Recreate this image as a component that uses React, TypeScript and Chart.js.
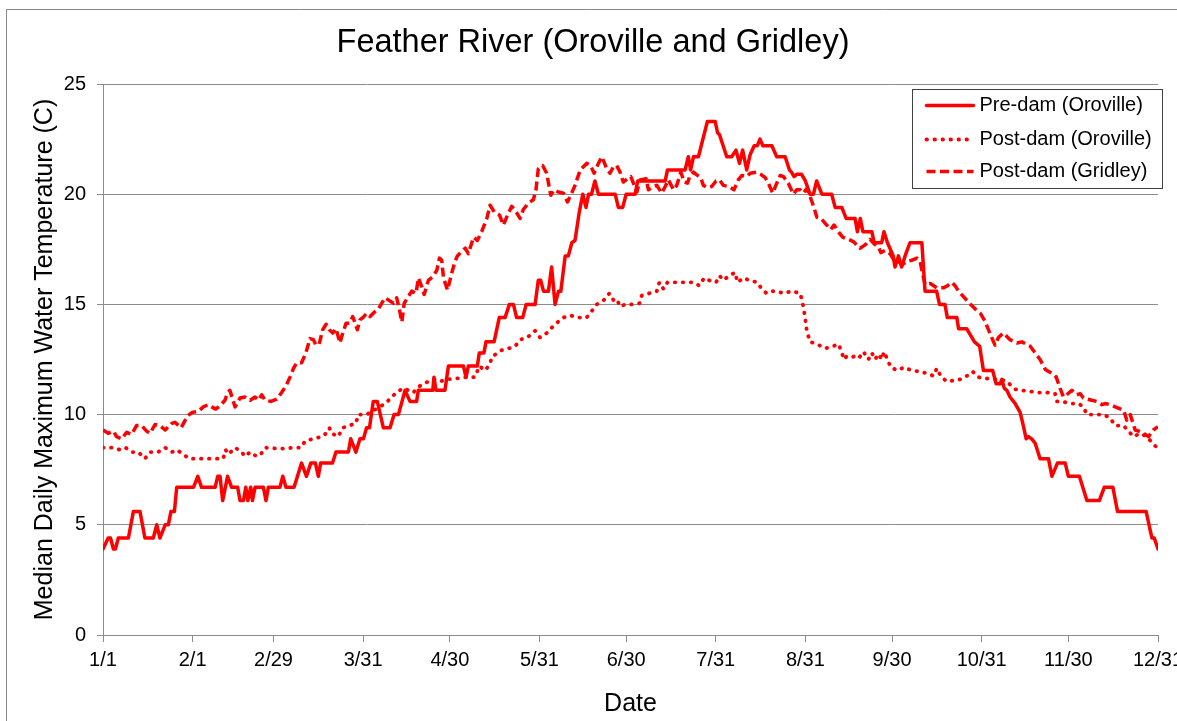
import React, { useEffect, useRef } from "react";
import { Chart, registerables } from "chart.js";

Chart.register(...registerables);

const FONT = "'Liberation Sans', Arial, sans-serif";
const RED = "#ff0000";
const GRID = "#8c8c8c";

const chartTitle = "Feather River (Oroville and Gridley)";
const xTitle = "Date";
const yTitle = "Median Daily Maximum Water Temperature (C)";
const seriesNames = ["Pre-dam (Oroville)", "Post-dam (Oroville)", "Post-dam (Gridley)"];

const tickDays = [0, 31, 59, 90, 120, 151, 181, 212, 243, 273, 304, 334, 365];
const tickLabels = ["1/1", "2/1", "2/29", "3/31", "4/30", "5/31", "6/30", "7/31", "8/31", "9/30", "10/31", "11/30", "12/31"];

const preDamDays = [
  0, 1.8, 2.6, 3.6, 4.3, 5.3, 8.8, 10.5, 12.8, 14.5, 17.4, 18.6, 19.7, 21.5, 22.6, 23.5, 24.7, 25.5, 31.3, 32.8,
  34.1, 38.8, 39.7, 40.5, 41.4, 43.1, 44.5, 46.6, 47.4, 48.6, 49.4, 50.1, 51.1, 51.7, 52.6, 55.5, 56.4, 57.2, 61.2, 62.2,
  63.3, 66.1, 68.7, 70.4, 71.9, 73.5, 74.5, 75.3, 79.4, 80.6, 84.9, 85.7, 87.5, 88.9, 90.1, 91.2, 92.2, 93.5, 94.9, 97.0,
  99.3, 100.7, 102.2, 104.5, 106.2, 108.5, 109.1, 114.1, 114.5, 115.2, 118.3, 119.5, 124.7, 125.6, 126.4, 129.5, 130.2, 131.8, 132.5, 135.3,
  137.1, 139.1, 140.6, 142.0, 143.1, 145.2, 146.4, 149.5, 150.6, 151.4, 152.4, 154.1, 155.2, 156.4, 157.6, 158.4, 159.9, 161.0, 162.2, 163.3,
  164.8, 166.0, 167.1, 168.0, 169.0, 170.2, 171.4, 177.2, 178.3, 179.8, 181.0, 184.1, 185.0, 194.5, 195.3, 201.4, 202.5, 203.3, 204.3, 206.0,
  209.1, 211.8, 212.6, 213.3, 215.8, 217.5, 219.0, 220.2, 221.3, 222.7, 223.9, 225.3, 226.4, 227.3, 228.3, 231.4, 233.1, 236.0, 237.5, 238.2,
  239.1, 240.0, 241.7, 243.0, 244.6, 245.8, 246.9, 248.7, 252.1, 253.3, 255.6, 257.1, 260.2, 261.0, 262.0, 262.9, 266.0, 266.8, 269.4, 270.2,
  271.4, 273.4, 274.0, 275.2, 276.3, 277.5, 279.2, 283.3, 284.4, 288.4, 289.4, 291.3, 292.1, 295.4, 296.0, 298.8, 301.5, 303.3, 304.6, 307.8,
  309.0, 310.4, 311.0, 311.8, 312.7, 313.8, 315.6, 317.3, 318.4, 319.4, 320.2, 321.3, 322.5, 324.2, 327.1, 328.3, 330.2, 332.9, 334.0, 337.8,
  340.4, 344.7, 346.4, 349.4, 351.0, 360.9, 362.9, 363.7, 365,
];
const preDamTemps = [
  3.9, 4.4, 4.4, 3.9, 3.9, 4.4, 4.4, 5.6, 5.6, 4.4, 4.4, 5.0, 4.4, 5.0, 5.0, 5.6, 5.6, 6.7, 6.7, 7.2,
  6.7, 6.7, 7.2, 7.2, 6.1, 7.2, 6.7, 6.7, 6.1, 6.1, 6.7, 6.1, 6.7, 6.1, 6.7, 6.7, 6.1, 6.7, 6.7, 7.2,
  6.7, 6.7, 7.8, 7.2, 7.8, 7.8, 7.2, 7.8, 7.8, 8.3, 8.3, 8.9, 8.3, 8.9, 8.9, 9.4, 9.4, 10.6, 10.6, 9.4,
  9.4, 10.0, 10.0, 11.1, 10.6, 10.6, 11.1, 11.1, 11.7, 11.1, 11.1, 12.2, 12.2, 11.7, 12.2, 12.2, 12.8, 12.8, 13.3, 13.3,
  14.4, 14.4, 15.0, 15.0, 14.4, 14.4, 15.0, 15.0, 16.1, 16.1, 15.6, 15.6, 16.7, 15.0, 15.6, 15.6, 17.2, 17.2, 17.8, 17.9,
  19.2, 20.0, 19.4, 20.0, 20.0, 20.6, 20.0, 20.0, 19.4, 19.4, 20.0, 20.0, 20.6, 20.6, 21.1, 21.1, 21.7, 21.1, 21.7, 21.7,
  23.3, 23.3, 22.8, 22.7, 21.7, 21.7, 22.0, 21.4, 22.0, 21.1, 21.8, 22.2, 22.2, 22.5, 22.2, 22.2, 21.7, 21.7, 21.1, 21.0,
  20.8, 20.9, 20.9, 20.6, 20.0, 20.0, 20.6, 20.0, 20.0, 19.4, 19.4, 18.9, 18.9, 18.3, 18.9, 18.3, 18.3, 17.8, 17.8, 18.3,
  17.8, 17.2, 16.7, 17.2, 16.7, 17.2, 17.8, 17.8, 15.6, 15.6, 15.0, 15.0, 14.4, 14.4, 13.9, 13.9, 13.3, 13.1, 12.0, 12.0,
  11.4, 11.4, 11.6, 11.2, 11.1, 10.8, 10.5, 10.1, 9.5, 8.9, 9.0, 8.9, 8.7, 8.0, 8.0, 7.2, 7.8, 7.8, 7.2, 7.2,
  6.1, 6.1, 6.7, 6.7, 5.6, 5.6, 4.4, 4.4, 3.9,
];

const postOrovilleDays = [
  0, 3.6, 5.9, 7.8, 9.9, 12.2, 14.5, 16.3, 19.1, 21.5, 23.8, 25.5, 27.8, 29.8, 41.6, 42.4, 43.4, 45.7, 48.0, 49.1,
  50.9, 53.2, 54.6, 56.1, 61.8, 66.1, 68.5, 69.9, 72.8, 75.7, 76.8, 78.3, 79.1, 81.4, 82.9, 85.2, 87.5, 88.3, 91.2, 93.8,
  96.4, 99.3, 101.4, 103.9, 107.4, 108.5, 110.8, 112.6, 114.3, 116.6, 119.0, 123.0, 125.8, 128.7, 130.2, 132.2, 133.9, 134.5, 137.4, 140.3,
  142.6, 144.3, 146.8, 149.5, 151.2, 153.5, 156.4, 159.3, 161.6, 164.5, 167.3, 169.1, 170.8, 173.3, 175.2, 176.6, 177.7, 178.9, 180.6, 182.9,
  185.6, 186.4, 189.0, 191.6, 192.5, 193.9, 195.3, 204.3, 206.3, 208.0, 209.5, 212.1, 213.3, 214.6, 216.7, 218.7, 219.5, 221.5, 223.5, 226.4,
  227.9, 229.6, 231.7, 232.9, 235.6, 238.3, 241.2, 242.0, 242.8, 243.5, 244.6, 247.0, 249.8, 252.5, 254.5, 255.6, 256.4, 257.3, 259.1, 260.8,
  261.7, 263.1, 264.8, 266.0, 267.1, 268.3, 269.4, 270.2, 271.4, 272.5, 274.8, 277.2, 279.8, 282.7, 285.6, 287.3, 288.5, 289.8, 291.9, 294.4,
  296.7, 298.8, 300.9, 302.8, 305.1, 308.1, 310.4, 312.7, 315.6, 317.9, 320.8, 323.6, 326.5, 329.4, 330.0, 331.7, 334.6, 337.5, 339.2, 340.4,
  346.1, 348.4, 350.2, 353.1, 354.8, 356.5, 358.8, 361.1, 362.8, 365,
];
const postOrovilleTemps = [
  8.5, 8.5, 8.4, 8.5, 8.3, 8.3, 8.0, 8.3, 8.3, 8.5, 8.3, 8.4, 8.2, 8.0, 8.0, 8.4, 8.2, 8.5, 8.3, 8.1,
  8.3, 8.1, 8.2, 8.5, 8.45, 8.5, 8.5, 8.8, 8.9, 9.0, 9.1, 9.4, 9.15, 9.0, 9.4, 9.5, 9.6, 10.0, 10.0, 10.2,
  10.4, 10.7, 11.0, 11.2, 11.0, 11.2, 11.4, 11.5, 11.6, 11.5, 11.6, 11.65, 11.7, 11.7, 12.2, 12.0, 12.3, 12.6, 12.9, 13.0,
  13.1, 13.4, 13.5, 13.8, 13.5, 13.7, 14.1, 14.4, 14.5, 14.4, 14.4, 14.7, 15.0, 15.2, 15.5, 15.2, 15.25, 14.9, 15.0, 15.0,
  15.05, 15.4, 15.5, 15.6, 16.0, 15.7, 16.0, 16.0, 15.85, 16.2, 16.1, 16.0, 16.3, 16.1, 16.3, 16.45, 16.0, 16.2, 16.1, 16.0,
  15.7, 15.5, 15.6, 15.6, 15.5, 15.6, 15.5, 15.1, 14.5, 13.8, 13.3, 13.2, 13.0, 13.1, 13.2, 12.8, 12.5, 12.65, 12.6, 12.7,
  12.6, 12.85, 12.5, 12.8, 12.5, 12.75, 12.5, 12.85, 12.5, 12.15, 12.0, 12.15, 12.0, 11.95, 11.85, 11.75, 12.1, 11.75, 11.5, 11.55,
  11.6, 11.75, 11.95, 11.7, 11.65, 11.6, 11.6, 11.5, 11.15, 11.1, 11.05, 11.0, 11.0, 10.95, 10.6, 10.6, 10.5, 10.5, 10.35, 10.0,
  10.0, 9.85, 9.5, 9.5, 9.25, 9.0, 9.15, 9.0, 8.75, 8.45,
];

const gridleyDays = [
  0, 1.8, 3.6, 4.7, 6.5, 8.2, 9.9, 11.6, 13.4, 15.1, 16.3, 18.0, 19.7, 21.5, 23.8, 24.9, 27.0, 29.3, 30.9, 33.0,
  34.7, 36.4, 37.6, 39.0, 40.5, 42.2, 43.1, 43.9, 45.7, 47.4, 49.1, 50.9, 52.6, 53.8, 54.9, 56.1, 58.1, 60.1, 61.8, 63.3,
  64.7, 65.9, 67.0, 68.7, 70.2, 71.6, 72.8, 73.7, 74.8, 76.0, 77.2, 78.3, 79.5, 80.6, 82.0, 82.6, 84.1, 85.4, 86.4, 88.0,
  88.9, 90.3, 91.2, 92.4, 93.5, 95.3, 97.6, 99.3, 100.5, 101.6, 102.5, 103.4, 104.2, 105.6, 106.8, 108.3, 109.1, 110.3, 111.1, 112.6,
  114.1, 115.5, 116.4, 117.2, 117.8, 119.2, 120.6, 121.8, 122.6, 124.1, 125.3, 126.4, 128.2, 129.5, 131.0, 132.8, 133.9, 135.6, 137.2, 138.5,
  140.3, 141.4, 142.9, 144.3, 145.4, 147.2, 148.9, 149.8, 150.6, 152.1, 153.5, 154.9, 156.0, 157.5, 159.3, 160.7, 161.8, 163.3, 165.1, 167.4,
  168.7, 169.9, 171.4, 172.6, 174.3, 175.4, 176.6, 177.7, 178.9, 180.0, 181.4, 182.6, 183.5, 184.7, 185.8, 187.9, 188.7, 190.4, 191.6, 193.3,
  194.5, 195.6, 197.4, 198.5, 199.9, 201.1, 202.2, 203.1, 204.3, 205.2, 206.8, 207.7, 209.1, 210.6, 212.1, 213.3, 214.6, 216.4, 218.3, 219.8,
  221.0, 222.7, 223.9, 226.0, 227.6, 229.1, 230.2, 231.7, 233.1, 234.3, 235.4, 237.1, 238.9, 240.0, 241.2, 242.3, 243.5, 244.6, 245.7, 247.0,
  248.7, 250.4, 251.8, 252.9, 254.4, 255.9, 257.9, 259.6, 261.9, 263.7, 265.4, 266.8, 268.3, 269.1, 270.6, 272.3, 273.5, 274.8, 276.4, 278.1,
  279.8, 281.6, 282.7, 283.3, 284.4, 286.2, 288.5, 290.8, 292.2, 293.7, 294.8, 296.0, 297.7, 299.4, 301.7, 303.5, 305.1, 306.8, 308.6, 309.8,
  311.5, 313.8, 316.2, 317.9, 320.8, 322.5, 324.2, 326.0, 328.6, 329.8, 331.1, 332.3, 333.4, 335.2, 336.9, 338.1, 339.2, 342.1, 343.8, 345.6,
  346.7, 348.5, 350.2, 353.1, 354.2, 355.4, 357.1, 358.3, 360.0, 361.7, 363.4, 365,
];
const gridleyTemps = [
  9.3, 9.15, 9.25, 9.0, 8.9, 9.2, 9.1, 9.5, 9.5, 9.25, 9.15, 9.55, 9.5, 9.3, 9.6, 9.65, 9.4, 9.95, 10.1, 10.15,
  10.35, 10.45, 10.35, 10.25, 10.4, 10.65, 11.0, 11.1, 10.35, 10.75, 10.8, 10.65, 10.8, 10.65, 10.9, 10.65, 10.6, 10.7, 11.0, 11.3,
  11.7, 12.1, 12.35, 12.35, 12.8, 13.45, 13.4, 13.15, 13.2, 13.85, 14.1, 13.85, 13.7, 13.9, 13.25, 13.55, 14.15, 14.15, 14.45, 13.85,
  14.3, 14.45, 14.6, 14.45, 14.6, 14.8, 15.3, 15.15, 15.05, 15.3, 14.8, 14.2, 15.05, 15.35, 15.6, 15.5, 16.2, 15.8, 15.45, 16.1,
  16.25, 16.55, 17.1, 17.0, 16.2, 15.65, 16.4, 16.95, 17.2, 17.4, 17.55, 17.3, 18.05, 17.9, 18.3, 18.9, 19.5, 19.15, 19.05, 18.6,
  19.15, 19.45, 19.2, 18.9, 19.3, 19.6, 19.75, 20.2, 21.15, 21.3, 20.95, 19.95, 20.2, 20.1, 20.05, 19.65, 19.95, 20.4, 21.1, 21.4,
  21.3, 20.95, 21.4, 21.7, 21.15, 20.95, 21.25, 21.3, 21.0, 20.55, 20.7, 20.8, 20.5, 20.1, 20.65, 20.7, 20.2, 20.35, 20.4, 20.05,
  20.35, 20.65, 20.2, 20.4, 21.0, 20.55, 20.5, 20.85, 21.0, 20.9, 20.75, 20.4, 20.3, 20.35, 20.6, 20.65, 20.4, 20.35, 20.2, 20.65,
  20.85, 20.8, 20.95, 21.0, 20.9, 20.75, 20.5, 20.05, 20.5, 20.85, 20.8, 20.5, 20.0, 20.2, 20.2, 20.05, 20.25, 19.9, 19.5, 18.95,
  18.85, 18.6, 18.4, 18.6, 18.3, 18.05, 17.95, 17.85, 17.55, 17.7, 17.95, 17.75, 17.6, 17.35, 17.45, 17.3, 17.05, 17.0, 16.8, 16.95,
  17.0, 17.1, 16.95, 16.55, 15.9, 15.95, 15.75, 15.75, 15.85, 16.0, 15.85, 15.6, 15.35, 15.1, 14.8, 14.6, 14.25, 13.7, 13.15, 13.5,
  13.7, 13.4, 13.25, 13.3, 13.1, 12.8, 12.5, 12.05, 11.85, 11.7, 11.2, 10.8, 10.9, 11.1, 10.9, 10.95, 10.75, 10.65, 10.6, 10.45,
  10.5, 10.45, 10.35, 10.2, 9.75, 10.0, 9.3, 9.25, 9.15, 9.0, 9.3, 9.45,
];

const toPoints = (days: number[], temps: number[]) => days.map((d, i) => ({ x: d, y: temps[i] }));

const seriesStyles = [
  { dash: [] as number[], cap: "round" as CanvasLineCap, width: 3.5 },
  { dash: [0.5, 7.5], cap: "round" as CanvasLineCap, width: 3.8 },
  { dash: [9, 4.5], cap: "butt" as CanvasLineCap, width: 3.5 },
];

const decorPlugin = {
  id: "decor",
  beforeDraw(chart: any) {
    const ctx = chart.ctx as CanvasRenderingContext2D;
    ctx.save();
    ctx.fillStyle = "#ffffff";
    ctx.fillRect(0, 0, chart.width, chart.height);
    ctx.strokeStyle = "#868686";
    ctx.lineWidth = 1;
    ctx.beginPath();
    ctx.moveTo(6.5, chart.height);
    ctx.lineTo(6.5, 9.5);
    ctx.lineTo(chart.width, 9.5);
    ctx.stroke();
    ctx.restore();
  },
  afterDraw(chart: any) {
    const ctx = chart.ctx as CanvasRenderingContext2D;
    const area = chart.chartArea;
    const bx = Math.round(area.right - 246) + 0.5;
    const by = Math.round(area.top + 5) + 0.5;
    const bw = 250;
    const bh = 99;
    ctx.save();
    ctx.fillStyle = "#ffffff";
    ctx.fillRect(bx, by, bw, bh);
    ctx.strokeStyle = "#404040";
    ctx.lineWidth = 1;
    ctx.strokeRect(bx, by, bw, bh);
    const rows = [16, 50, 82];
    chart.data.datasets.forEach((ds: any, i: number) => {
      const y = by + rows[i];
      ctx.save();
      ctx.strokeStyle = ds.borderColor;
      ctx.lineWidth = ds.borderWidth;
      ctx.lineCap = ds.borderCapStyle;
      ctx.setLineDash(ds.borderDash || []);
      ctx.beginPath();
      ctx.moveTo(bx + 14, y);
      ctx.lineTo(bx + 61, y);
      ctx.stroke();
      ctx.restore();
      ctx.fillStyle = "#000000";
      ctx.font = `20px ${FONT}`;
      ctx.textAlign = "left";
      ctx.textBaseline = "middle";
      ctx.fillText(ds.label, bx + 67, y);
    });
    ctx.restore();
  },
};

export default function App() {
  const ref = useRef<HTMLCanvasElement>(null);
  useEffect(() => {
    const series = [
      toPoints(preDamDays, preDamTemps),
      toPoints(postOrovilleDays, postOrovilleTemps),
      toPoints(gridleyDays, gridleyTemps),
    ];
    const chart = new Chart(ref.current as HTMLCanvasElement, {
      type: "line",
      data: {
        datasets: series.map((data, i) => ({
          label: seriesNames[i],
          data,
          borderColor: RED,
          backgroundColor: RED,
          borderWidth: seriesStyles[i].width,
          borderDash: seriesStyles[i].dash,
          borderCapStyle: seriesStyles[i].cap,
          borderJoinStyle: "round",
          pointRadius: 0,
          tension: 0,
          fill: false,
        })),
      },
      options: {
        responsive: false,
        animation: false,
        devicePixelRatio: 1,
        layout: { padding: { left: 28, right: 19, top: 0, bottom: 0 } },
        plugins: {
          legend: { display: false },
          tooltip: { enabled: false },
          title: {
            display: true,
            text: chartTitle,
            color: "#000",
            font: { family: FONT, size: 32.5, weight: "normal", lineHeight: 1.2 },
            padding: { top: 23.5, bottom: 21.5 },
          },
        },
        scales: {
          x: {
            type: "linear",
            min: 0,
            max: 365,
            afterBuildTicks: (s: any) => {
              s.ticks = tickDays.map((v) => ({ value: v }));
            },
            afterFit: (s: any) => {
              s.height = 86;
              s.paddingLeft = 0;
              s.paddingRight = 0;
            },
            ticks: {
              autoSkip: false,
              maxRotation: 0,
              minRotation: 0,
              padding: 6,
              color: "#000",
              font: { family: FONT, size: 20 },
              callback: (_v: any, i: number) => tickLabels[i],
            },
            grid: { drawOnChartArea: false, drawTicks: true, tickLength: 7, color: GRID, lineWidth: 1 },
            border: { display: true, color: GRID, width: 1 },
            title: {
              display: true,
              text: xTitle,
              color: "#000",
              font: { family: FONT, size: 25 },
              padding: { top: 0, bottom: 2 },
            },
          },
          y: {
            min: 0,
            max: 25,
            afterFit: (s: any) => {
              s.width = 75;
            },
            ticks: { stepSize: 5, padding: 11, color: "#000", font: { family: FONT, size: 20 } },
            grid: { color: GRID, lineWidth: 1, tickLength: 6 },
            border: { display: true, color: GRID, width: 1 },
            title: {
              display: true,
              text: yTitle,
              color: "#000",
              font: { family: FONT, size: 25 },
              padding: { top: 2, bottom: 0 },
            },
          },
        },
      } as any,
      plugins: [decorPlugin],
    });
    return () => chart.destroy();
  }, []);
  return (
    <div style={{ position: "absolute", left: 0, top: 0, width: 1177, height: 721, background: "#fff" }}>
      <canvas ref={ref} width={1177} height={721} style={{ display: "block", width: 1177, height: 721 }} />
    </div>
  );
}
